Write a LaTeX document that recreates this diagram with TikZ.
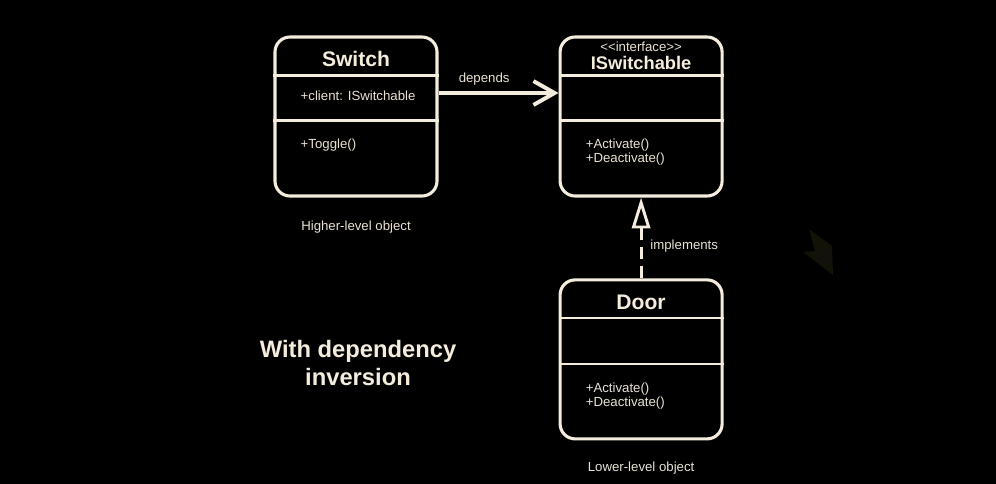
\documentclass[tikz,border=0pt]{standalone}
\usepackage{fontspec}
\setmainfont{Liberation Sans}
\usetikzlibrary{positioning,calc,arrows.meta}
\definecolor{cream}{HTML}{F4ECDC}
\definecolor{creamtxt}{HTML}{E9E2D4}
\definecolor{ghost}{HTML}{121208}
\tikzstyle{classbox} = [draw=cream,
						line width=2.2pt,
						rounded corners=0.375cm,
						minimum width=4.05cm,
						minimum height=3.975cm,
						fill=black,
						inner sep=0pt]
\tikzstyle{divider} = [draw=cream,
					   line width=1.5pt]
\tikzstyle{ctitle} = [text=cream,
					  font=\bfseries\fontsize{15}{17}\selectfont]
\tikzstyle{member} = [text=creamtxt,
					  anchor=west,
					  align=left,
					  inner sep=0pt,
					  font=\fontsize{9.4}{10}\selectfont]
\tikzstyle{caption} = [text=creamtxt,
					   font=\fontsize{9.4}{11}\selectfont]
\tikzstyle{depline} = [draw=cream,
					   line width=2.8pt,
					   -{Straight Barb[length=15pt,width=17pt,line width=2.8pt]}]
\tikzstyle{implline} = [draw=cream,
						line width=2.1pt,
						dash pattern=on 8.5pt off 5pt,
						-{Triangle[open,length=22pt,width=13pt,line width=2.1pt]}]

\begin{document}
\begin{tikzpicture}

	\fill[black] (0,0) rectangle (24.9,-12.1);
	\fill[ghost] (20.225,-5.725) -- (20.8,-6.15) -- (20.825,-6.875) -- (20.075,-6.3) -- (20.375,-6.275) -- cycle;

	%%%%%%%%%%%%
	% SWITCH   %
	%%%%%%%%%%%%
	\node[classbox] (sw) at (8.9,-2.9125) {};
	\node[ctitle, below=0.28cm of sw.north] (swname) {Switch};
	\draw[divider] ([yshift=-1cm]sw.north west) -- ([yshift=-1cm]sw.north east);
	\draw[divider] ([yshift=-2.125cm]sw.north west) -- ([yshift=-2.125cm]sw.north east);
	\node[member] (swattr) at ($(sw.north west)+(0.675,-1.5)$) {+client: ISwitchable};
	\node[member] (swop) at ($(sw.north west)+(0.675,-2.75)$) {+Toggle()};
	\node[caption, below=0.45cm of sw] (hi) {Higher-level object};

	%%%%%%%%%%%%%%%
	% ISWITCHABLE %
	%%%%%%%%%%%%%%%
	\node[classbox, right=3.0cm of sw] (if) {};
	\node[text=creamtxt, font=\fontsize{9.4}{10}\selectfont, below=0.15cm of if.north, inner sep=0pt] (ster) {<{}<interface>{}>};
	\node[ctitle, font=\bfseries\fontsize{13}{15}\selectfont, below=0.1cm of ster, inner sep=0pt] (ifname) {ISwitchable};
	\draw[divider] ([yshift=-1cm]if.north west) -- ([yshift=-1cm]if.north east);
	\draw[divider] ([yshift=-2.125cm]if.north west) -- ([yshift=-2.125cm]if.north east);
	\node[member] (ifops) at ($(if.north west)+(0.675,-2.92)$) {+Activate()\\+Deactivate()};

	%%%%%%%%%%%%
	% DOOR     %
	%%%%%%%%%%%%
	\node[classbox, below=2.02cm of if] (door) {};
	\node[ctitle, below=0.28cm of door.north] (doorname) {Door};
	\draw[divider] ([yshift=-1cm]door.north west) -- ([yshift=-1cm]door.north east);
	\draw[divider] ([yshift=-2.15cm]door.north west) -- ([yshift=-2.15cm]door.north east);
	\node[member] (doorops) at ($(door.north west)+(0.675,-2.95)$) {+Activate()\\+Deactivate()};
	\node[caption, below=0.42cm of door] (lo) {Lower-level object};

	% connectors
	\draw[depline] ([yshift=0.5875cm]sw.east) -- node[caption, above=1pt, pos=0.38] (dep) {depends} ([yshift=0.5875cm]if.west);
	\draw[implline] (door.north) -- node[caption, right=0.08cm, pos=0.4] (impl) {implements} (if.south);

	\node[text=cream, font=\bfseries\fontsize{16.9}{20}\selectfont, align=center] (title) at (8.95,-9.075) {With dependency\\inversion};

\end{tikzpicture}
\end{document}
